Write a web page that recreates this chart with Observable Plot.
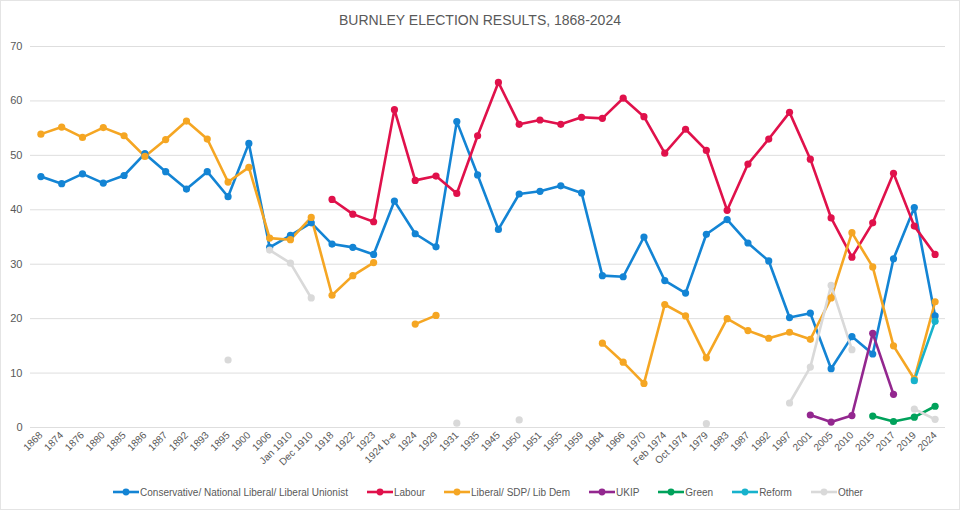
<!DOCTYPE html>
<html><head><meta charset="utf-8">
<script src="https://cdn.jsdelivr.net/npm/d3@7"></script>
<script src="https://cdn.jsdelivr.net/npm/@observablehq/plot@0.6"></script>
<style>
html,body{margin:0;padding:0;background:#fff;}
#frame{position:relative;width:958px;height:508px;border:1px solid #e4e4e4;overflow:hidden;font-family:"Liberation Sans",Arial,sans-serif;}
#title{height:35px;line-height:38px;text-align:center;font-size:14px;color:#595959;}
#chart svg{display:block;}
#legend{position:absolute;left:8px;top:480px;width:958px;height:22px;display:flex;justify-content:center;align-items:center;gap:19px;font-size:10px;color:#595959;}
.item{display:flex;align-items:center;gap:1px;white-space:nowrap;}
</style></head><body>
<div id="frame">
<div id="title">BURNLEY ELECTION RESULTS, 1868-2024</div>
<div id="chart"></div>
<div id="legend"></div>
</div>
<script>
const labels = ["1868","1874","1876","1880","1885","1886","1887","1892","1893","1895","1900","1906","Jan 1910","Dec 1910","1918","1922","1923","1924 b-e","1924","1929","1931","1935","1945","1950","1951","1955","1959","1964","1966","1970","Feb 1974","Oct 1974","1979","1983","1987","1992","1997","2001","2005","2010","2015","2017","2019","2024"];

const conservative = [46.1,44.8,46.6,44.9,46.3,50.3,47.0,43.8,47.0,42.4,52.2,33.1,35.3,37.6,33.7,33.1,31.8,41.6,35.6,33.2,56.2,46.4,36.4,42.9,43.4,44.4,43.1,27.9,27.7,35.0,27.0,24.7,35.5,38.2,33.9,30.6,20.2,21.0,10.8,16.7,13.5,31.0,40.4,20.5];
const labour = [null,null,null,null,null,null,null,null,null,null,null,null,null,null,41.9,39.2,37.8,58.4,45.4,46.2,43.0,53.6,63.4,55.7,56.5,55.7,57.0,56.8,60.5,57.1,50.4,54.8,50.9,39.9,48.4,53.0,57.9,49.3,38.5,31.3,37.6,46.7,37.0,31.8];
const liberal = [53.9,55.2,53.3,55.1,53.6,49.8,52.9,56.3,53.0,45.1,47.8,34.8,34.5,38.6,24.3,27.9,30.3,null,19.0,20.6,null,null,null,null,null,null,null,15.5,12.0,8.1,22.6,20.5,12.8,20.0,17.8,16.4,17.5,16.2,23.8,35.8,29.5,15.0,8.9,23.1];
const ukip = [null,null,null,null,null,null,null,null,null,null,null,null,null,null,null,null,null,null,null,null,null,null,null,null,null,null,null,null,null,null,null,null,null,null,null,null,null,2.3,1.0,2.2,17.3,6.1,null,null];
const green = [null,null,null,null,null,null,null,null,null,null,null,null,null,null,null,null,null,null,null,null,null,null,null,null,null,null,null,null,null,null,null,null,null,null,null,null,null,null,null,null,2.1,1.1,1.9,3.9];
const reform = [null,null,null,null,null,null,null,null,null,null,null,null,null,null,null,null,null,null,null,null,null,null,null,null,null,null,null,null,null,null,null,null,null,null,null,null,null,null,null,null,null,null,8.6,19.5];
const other = [null,null,null,null,null,null,null,null,null,12.4,null,32.6,30.2,23.8,null,null,null,null,null,null,0.8,null,null,1.4,null,null,null,null,null,null,null,null,0.7,null,null,null,4.5,11.1,26.1,14.3,null,null,3.4,1.5];

const seriesNames = ["Conservative/ National Liberal/ Liberal Unionist","Labour","Liberal/ SDP/ Lib  Dem","UKIP","Green","Reform","Other"];
const seriesValues = [conservative, labour, liberal, ukip, green, reform, other];
const seriesColors = ["#1384d4","#e0114b","#f5a623","#93278f","#00a25b","#17b2cc","#d9d9d9"];
const yTicks = [0,10,20,30,40,50,60,70];

const data = [];
seriesNames.forEach((name, s) => {
  seriesValues[s].forEach((v, i) => {
    data.push({series: name, label: labels[i], value: v == null ? NaN : v});
  });
});
const dotsData = data.filter(d => !isNaN(d.value));

const chart = Plot.plot({
  width: 958,
  height: 441,
  marginTop: 10,
  marginBottom: 50,
  marginLeft: 29,
  marginRight: 14,
  style: {fontFamily: '"Liberation Sans",Arial,sans-serif', color: "#595959", background: "transparent"},
  x: {type: "point", domain: labels, padding: 0.5, label: null},
  y: {domain: [0, 70], label: null},
  color: {domain: seriesNames, range: seriesColors},
  marks: [
    Plot.ruleY(yTicks, {stroke: "#dedede", strokeWidth: 1}),
    Plot.axisY({ticks: yTicks, tickSize: 0, tickPadding: 8, fontSize: 11, label: null, fill: "#595959"}),
    Plot.axisX({tickSize: 0, tickPadding: 6, tickRotate: -45, fontSize: 10, label: null, fill: "#595959"}),
    Plot.line(data, {x: "label", y: "value", z: "series", stroke: "series", strokeWidth: 2.6, strokeLinejoin: "round"}),
    Plot.dot(dotsData, {x: "label", y: "value", fill: "series", r: 3.6})
  ]
});
document.getElementById("chart").appendChild(chart);

const legend = document.getElementById("legend");
seriesNames.forEach((name, s) => {
  const item = document.createElement("div");
  item.className = "item";
  const c = seriesColors[s];
  item.innerHTML = `<svg width="26" height="10"><line x1="0" y1="5" x2="26" y2="5" stroke="${c}" stroke-width="2.6"/><circle cx="13" cy="5" r="3.4" fill="${c}"/></svg><span>${name}</span>`;
  legend.appendChild(item);
});
</script>
</body></html>
